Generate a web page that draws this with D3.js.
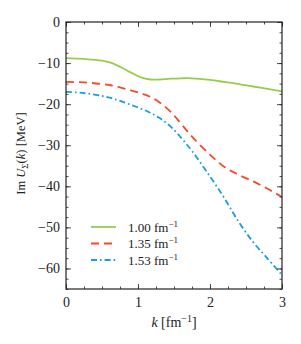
<!DOCTYPE html>
<html>
<head>
<meta charset="utf-8">
<script src="https://cdn.jsdelivr.net/npm/d3@7"></script>
<style>
body { margin: 0; background: #fff; }
text { font-family: "Liberation Serif", "DejaVu Serif", serif; fill: #222; }
</style>
</head>
<body>
<div class="chart"></div>
<script>
// data
const kValues = [0, 0.25, 0.5, 0.62, 0.75, 0.89, 1.03, 1.17, 1.3, 1.45, 1.6, 1.75, 2.0, 2.2, 2.4, 2.6, 2.8, 3.0];
const green100 = [-8.8, -9.0, -9.4, -9.9, -10.9, -12.2, -13.4, -14.0, -14.0, -13.8, -13.7, -13.7, -14.1, -14.6, -15.1, -15.7, -16.3, -16.9];
const red135 = [-14.6, -14.7, -15.1, -15.4, -15.9, -16.6, -17.3, -18.2, -19.6, -21.8, -24.8, -27.9, -32.3, -35.3, -37.2, -38.8, -40.6, -42.6];
const blue153 = [-17.0, -17.3, -18.0, -18.5, -19.2, -20.1, -21.0, -22.1, -23.4, -25.4, -28.2, -31.4, -37.6, -42.9, -48.7, -53.6, -57.6, -61.6];
const legendLabels = ["1.00", "1.35", "1.53"];
const xTicks = [0, 1, 2, 3];
const yTicks = [0, -10, -20, -30, -40, -50, -60];

const svgWidth = 301;
const svgHeight = 344;
const margin = { top: 22, right: 19, bottom: 55, left: 66 };
const width = svgWidth - margin.left - margin.right;
const height = svgHeight - margin.top - margin.bottom;

const svg = d3.select(".chart").append("svg")
    .attr("width", svgWidth)
    .attr("height", svgHeight);

const chartGroup = svg.append("g")
    .attr("transform", `translate(${margin.left}, ${margin.top})`);

const x = d3.scaleLinear().domain([0, 3]).range([0, width]);
const y = d3.scaleLinear().domain([-65, 0]).range([height, 0]);

const series = [
    { vals: green100, color: "#9acb4b", dash: null },
    { vals: red135, color: "#f4492b", dash: "8,5" },
    { vals: blue153, color: "#1c9dd8", dash: "6,3,1.6,3" }
];

const line = d3.line()
    .x(d => x(d[0]))
    .y(d => y(d[1]))
    .curve(d3.curveCatmullRom.alpha(0.5));

series.forEach(s => {
    chartGroup.append("path")
        .datum(kValues.map((k, i) => [k, s.vals[i]]))
        .attr("fill", "none")
        .attr("stroke", s.color)
        .attr("stroke-width", 1.8)
        .attr("stroke-dasharray", s.dash)
        .attr("d", line);
});

// axes with inward ticks on all sides
const minorX = d3.range(0, 3.01, 0.25);
const minorY = d3.range(-65, 0.01, 2.5);

chartGroup.append("g")
    .attr("transform", `translate(0,${height})`)
    .call(d3.axisBottom(x).tickValues(xTicks).tickSize(-5).tickPadding(8).tickFormat(d3.format("d")));
chartGroup.append("g")
    .attr("transform", `translate(0,${height})`)
    .call(d3.axisBottom(x).tickValues(minorX).tickSize(-2.5).tickFormat(""));
chartGroup.append("g")
    .call(d3.axisTop(x).tickValues(xTicks).tickSize(-5).tickFormat(""));
chartGroup.append("g")
    .call(d3.axisTop(x).tickValues(minorX).tickSize(-2.5).tickFormat(""));

chartGroup.append("g")
    .call(d3.axisLeft(y).tickValues(yTicks).tickSize(-5).tickPadding(6)
        .tickFormat(d => d === 0 ? "0" : "\u2212" + Math.abs(d)));
chartGroup.append("g")
    .call(d3.axisLeft(y).tickValues(minorY).tickSize(-2.5).tickFormat(""));
chartGroup.append("g")
    .attr("transform", `translate(${width},0)`)
    .call(d3.axisRight(y).tickValues(yTicks).tickSize(-5).tickFormat(""));
chartGroup.append("g")
    .attr("transform", `translate(${width},0)`)
    .call(d3.axisRight(y).tickValues(minorY).tickSize(-2.5).tickFormat(""));

chartGroup.selectAll(".domain").remove();
chartGroup.selectAll(".tick line").attr("stroke", "#222").attr("stroke-width", 0.8);
chartGroup.selectAll(".tick text").style("font-size", "14px").attr("fill", "#222");

chartGroup.append("rect")
    .attr("width", width)
    .attr("height", height)
    .attr("fill", "none")
    .attr("stroke", "#222")
    .attr("stroke-width", 1.2);

// axis labels
const yLabel = svg.append("text")
    .attr("transform", `translate(25, ${margin.top + height / 2 - 2}) rotate(-90)`)
    .attr("text-anchor", "middle")
    .style("font-size", "12.5px");
yLabel.append("tspan").text("Im ");
yLabel.append("tspan").attr("font-style", "italic").text("U");
yLabel.append("tspan").attr("font-size", "9px").attr("dy", 3).text("Σ");
yLabel.append("tspan").attr("dy", -3).text("(");
yLabel.append("tspan").attr("font-style", "italic").text("k");
yLabel.append("tspan").text(") [MeV]");

const xLabel = svg.append("text")
    .attr("x", margin.left + width / 2)
    .attr("y", 327)
    .attr("text-anchor", "middle")
    .style("font-size", "14px");
xLabel.append("tspan").attr("font-style", "italic").text("k");
xLabel.append("tspan").text(" [fm");
xLabel.append("tspan").attr("font-size", "10px").attr("dy", -5).text("\u22121");
xLabel.append("tspan").attr("dy", 5).text("]");

// legend
const legend = svg.append("g");
series.forEach((s, i) => {
    const ly = 227 + i * 16.5;
    legend.append("line")
        .attr("x1", 91).attr("x2", 116)
        .attr("y1", ly).attr("y2", ly)
        .attr("stroke", s.color)
        .attr("stroke-width", 1.8)
        .attr("stroke-dasharray", s.dash);
    const t = legend.append("text")
        .attr("x", 128)
        .attr("y", ly + 4.5)
        .style("font-size", "13px");
    t.append("tspan").text(legendLabels[i] + " fm");
    t.append("tspan").attr("font-size", "9px").attr("dy", -5).text("\u22121");
});
</script>
</body>
</html>
